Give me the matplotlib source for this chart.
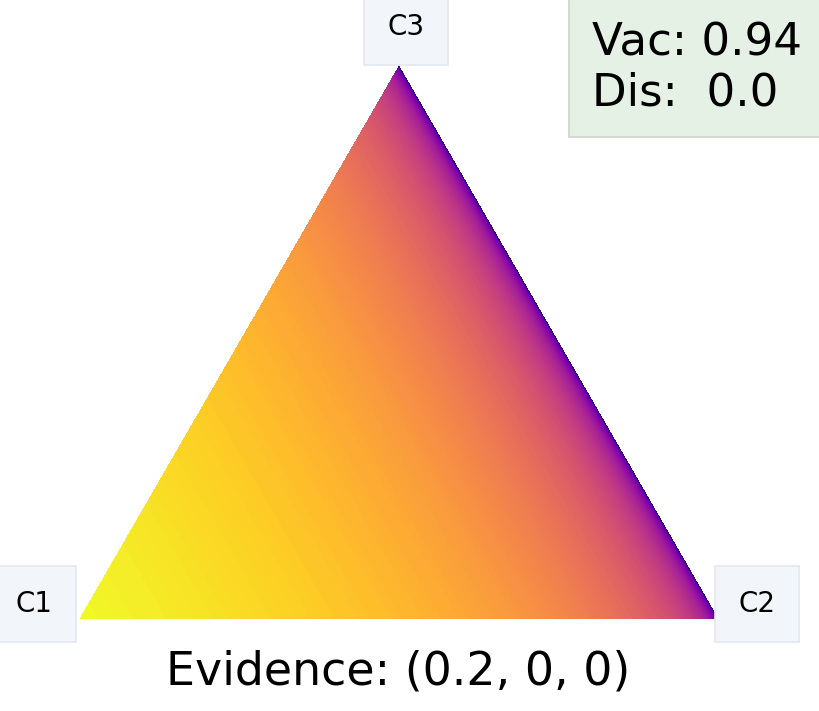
import math
import numpy as np
import matplotlib
matplotlib.use("Agg")
import matplotlib.pyplot as plt
import matplotlib.tri as tri

# chart values
evidence = [0.2, 0, 0]
corner_labels = ["C1", "C2", "C3"]
vacuity = 0.94
dissonance = 0.0

alpha = np.array(evidence, dtype=float) + 1.0

corners = np.array([[0, 0], [1, 0], [0.5, 0.75 ** 0.5]])
triangle = tri.Triangulation(corners[:, 0], corners[:, 1])
midpoints = [(corners[(i + 1) % 3] + corners[(i + 2) % 3]) / 2.0 for i in range(3)]


def xy2bc(xy, tol=1.e-4):
    s = [(corners[i] - midpoints[i]).dot(xy - midpoints[i]) / 0.75 for i in range(3)]
    return np.clip(s, tol, 1.0 - tol)


def dirichlet_pdf(x):
    coef = math.gamma(np.sum(alpha)) / np.prod([math.gamma(a) for a in alpha])
    return coef * np.prod([xx ** (a - 1) for xx, a in zip(x, alpha)])


refiner = tri.UniformTriRefiner(triangle)
trimesh = refiner.refine_triangulation(subdiv=8)
pvals = [dirichlet_pdf(xy2bc(xy)) for xy in zip(trimesh.x, trimesh.y)]

fig = plt.figure(figsize=(8.2, 7.11), dpi=100)
ax = fig.add_axes([0, 0, 1, 1])

# pixel -> data helpers (638 px per unit, C1 at pixel (80, 619))
def px(x):
    return (x - 80) / 638.0

def py(y):
    return (619 - y) / 638.0

ax.tricontourf(trimesh, pvals, 200, cmap="plasma")
ax.set_xlim(px(0), px(820))
ax.set_ylim(py(711), py(0))
ax.set_aspect("equal")
ax.axis("off")

label_box = dict(boxstyle="square,pad=0.85", facecolor="#f2f6fa", edgecolor="#e3e8ee", linewidth=1.2)
label_pos = [(34, 604), (757, 604), (406, 27)]
for lab, (lx, ly) in zip(corner_labels, label_pos):
    ax.text(px(lx), py(ly), lab, fontsize=20, ha="center", va="center", bbox=label_box)

ax.text(px(592), py(22), "Vac: %s\nDis:  %s" % (vacuity, dissonance), fontsize=32.5,
        ha="left", va="top",
        bbox=dict(boxstyle="square,pad=0.5", facecolor="#e6f1e6", edgecolor="#d3dad3", linewidth=1.5))

ax.text(px(398), py(672), "Evidence: (%s, %s, %s)" % tuple(evidence), fontsize=33,
        ha="center", va="center")

fig.savefig("out.png")
